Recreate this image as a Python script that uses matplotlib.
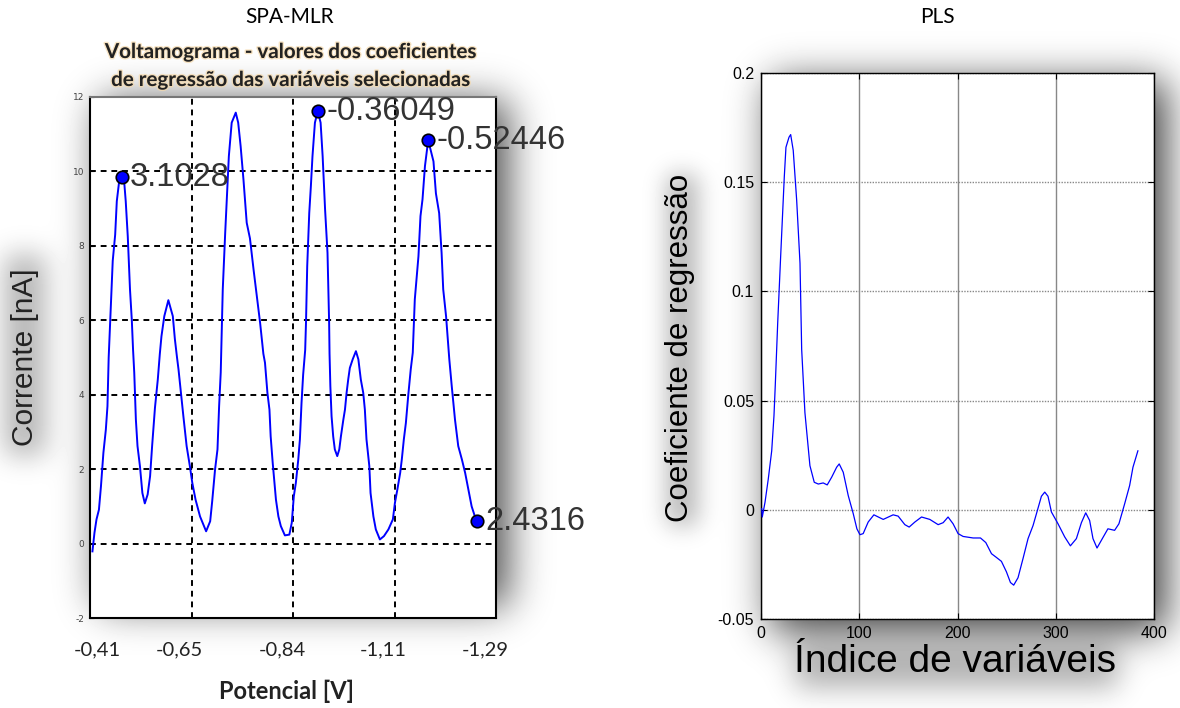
import matplotlib.pyplot as plt
import matplotlib.patheffects as pe
from matplotlib.ticker import FixedLocator
import numpy as np

plt.rcParams['axes.unicode_minus'] = False

W, H = 1180, 708

# SPA-MLR: voltamograma (índice da variável, corrente em nA)
volt_idx = [0.6, 1.1, 1.6, 2.2, 2.7, 3.3, 3.9, 4.3, 4.6, 5.1, 5.6, 6.2, 6.6, 7.2, 7.8,
            8.4, 8.8, 9.3, 9.85, 10.3, 10.6, 10.9, 11.3, 11.7, 12.3, 12.9, 13.5, 14.2,
            14.8, 15.3, 16.0, 16.7, 17.2, 17.6, 18.3, 19.3, 20.4, 20.9, 21.4, 21.8,
            22.4, 23.0, 23.8, 24.6, 25.2, 26.0, 27.1, 28.6, 29.6, 30.1, 30.8, 31.4,
            31.8, 32.2, 32.4, 32.7, 33.3, 33.8, 34.2, 34.9, 35.9, 36.5, 37.1, 37.8,
            38.6, 39.4, 40.3, 41.1, 41.9, 42.7, 43.1, 43.7, 44.2, 44.5, 45.0, 45.3,
            45.8, 46.4, 47.0, 48.0, 49.1, 49.7, 50.2, 50.7, 51.3, 51.7, 52.1, 52.5,
            53.0, 53.2, 53.5, 54.0, 54.4, 54.8, 55.4, 56.1, 56.8, 57.3, 57.9, 58.5,
            58.9, 59.0, 59.2, 59.5, 59.9, 60.3, 60.9, 61.4, 61.8, 62.4, 62.8, 63.2,
            63.6, 64.0, 64.7, 65.5, 66.1, 66.7, 67.3, 67.7, 68.1, 68.8, 69.1, 69.8,
            70.4, 71.4, 72.4, 73.5, 74.6, 75.1, 75.7, 76.4, 76.8, 77.3, 77.8, 78.4,
            79.0, 79.5, 80.0, 80.9, 81.4, 81.9, 82.5, 83.3, 84.6, 85.2, 86.0, 86.6,
            87.0, 87.7, 88.5, 89.1, 89.9, 90.7, 91.6, 92.4, 93.2, 94.0, 94.8, 95.4]
volt_cur = [-0.21, 0.29, 0.65, 0.91, 1.54, 2.44, 3.06, 3.69, 5.0, 6.3, 7.6, 8.3, 9.2,
            9.75, 9.85, 9.75, 9.2, 8.26, 6.83, 6.0, 5.22, 4.59, 3.33, 2.62, 2.08, 1.36,
            1.08, 1.32, 1.81, 2.62, 3.65, 4.41, 5.1, 5.57, 6.11, 6.54, 6.11, 5.5, 5.03,
            4.68, 4.05, 3.42, 2.62, 2.08, 1.63, 1.18, 0.73, 0.33, 0.6, 1.14, 1.99, 2.53,
            3.69, 4.6, 5.5, 6.83, 8.35, 9.52, 10.41, 11.31, 11.58, 11.31, 10.68, 9.78,
            8.62, 8.2, 7.35, 6.65, 5.93, 5.1, 4.86, 4.05, 3.6, 2.88, 2.17, 1.81, 1.18,
            0.73, 0.47, 0.22, 0.24, 0.56, 1.27, 1.63, 2.26, 2.8, 3.78, 4.54, 5.2, 5.93,
            7.45, 8.88, 9.6, 10.41, 11.31, 11.62, 11.31, 10.41, 8.98, 7.81, 5.93, 5.1,
            4.23, 3.42, 2.88, 2.53, 2.35, 2.53, 2.88, 3.33, 3.6, 4.05, 4.41, 4.72, 4.95,
            5.17, 4.95, 4.41, 4.05, 3.6, 2.8, 2.08, 1.36, 0.73, 0.38, 0.11, 0.2, 0.38,
            0.65, 1.09, 1.45, 1.9, 2.26, 2.8, 3.24, 4.0, 4.68, 5.13, 6.56, 7.72, 8.8,
            9.25, 10.14, 10.84, 10.27, 9.41, 8.88, 7.81, 6.83, 6.11, 4.95, 4.23, 3.33,
            2.62, 2.26, 1.9, 1.45, 1.0, 0.73, 0.6]

# variáveis selecionadas e seus coeficientes de regressão
sel_pos = [7.8, 56.1, 83.3, 95.4]
sel_coef = ['3.1028', '-0.36049', '-0.52446', '2.4316']

# rótulos de potencial no eixo x
pot_pos = [1.7, 21.9, 47.5, 72.2, 97.3]
pot_labels = ['-0,41', '-0,65', '-0,84', '-1,11', '-1,29']

# PLS: vetor de regressão
pls_idx = [0.7, 1.3, 4.1, 7.4, 10.9, 13.2, 14.5, 17, 20, 23.7, 25.4, 28.5, 30.2, 32.8,
           36.3, 39.7, 41.4, 44.7, 49.8, 54.2, 58.3, 63.3, 67.4, 71.9, 77, 79.6, 83.7,
           88.8, 93.9, 97.6, 100.7, 104, 109.1, 114.9, 124.4, 134.5, 139.6, 146.4,
           150.8, 156.6, 163.4, 171.8, 180.3, 185.4, 190.4, 195.5, 200.6, 205.7,
           215.9, 223.4, 228.8, 234.6, 239, 244.7, 249.8, 253.9, 257.2, 261.6, 266.7,
           271.8, 276.9, 281.3, 285.4, 288.8, 292.1, 295.6, 302.3, 309.1, 314.9, 321,
           326.1, 330.5, 334.5, 337.9, 342, 347.4, 353.1, 359.9, 364.3, 370.1, 375.2,
           378.6, 383.6]
pls_coef = [0.0005, -0.0033, 0.0035, 0.0141, 0.027, 0.043, 0.0567, 0.0856, 0.116,
            0.1524, 0.166, 0.1706, 0.1718, 0.1646, 0.1418, 0.1129, 0.0734, 0.0445,
            0.0202, 0.0126, 0.0118, 0.0123, 0.0114, 0.0149, 0.0195, 0.021, 0.0172,
            0.0065, -0.0018, -0.0087, -0.0114, -0.0109, -0.0056, -0.0023, -0.0044,
            -0.0023, -0.0029, -0.0068, -0.0079, -0.0056, -0.0033, -0.0044, -0.0068,
            -0.0059, -0.0033, -0.0064, -0.0109, -0.0122, -0.0129, -0.0129, -0.015,
            -0.0201, -0.0216, -0.0236, -0.0284, -0.0333, -0.0345, -0.0311, -0.0223,
            -0.0132, -0.0072, -0.0003, 0.0062, 0.0081, 0.0062, -0.001, -0.0064,
            -0.0124, -0.0165, -0.0132, -0.0059, -0.0014, -0.0049, -0.0132, -0.0175,
            -0.0132, -0.0087, -0.0094, -0.0064, 0.0027, 0.0111, 0.0195, 0.027]


def blur(img, sigma):
    r = int(3 * sigma)
    k = np.exp(-0.5 * (np.arange(-r, r + 1) / sigma) ** 2)
    k /= k.sum()
    img = np.apply_along_axis(lambda v: np.convolve(v, k, mode='same'), 0, img)
    img = np.apply_along_axis(lambda v: np.convolve(v, k, mode='same'), 1, img)
    return img


def soft_shadow(boxes):
    # cada caixa: (x0, x1, y0, y1, sigma, intensidade) em pixels da figura
    shade = np.zeros((H, W))
    for x0, x1, y0, y1, sigma, strength in boxes:
        m = np.zeros((H, W))
        m[int(y0):int(y1), int(x0):int(x1)] = 1.0
        shade += strength * blur(m, sigma)
    return np.clip(1.0 - shade, 0, 1)


fig = plt.figure(figsize=(W / 100, H / 100), dpi=100, facecolor='white')

# sombras suaves atrás dos dois painéis
bg = fig.add_axes([0, 0, 1, 1], zorder=-5)
shadow = soft_shadow([
    (100, 508, 101, 606, 20, 0.7),
    (5, 45, 255, 455, 14, 0.3),
    (771, 1166, 81, 631, 20, 0.75),
    (668, 697, 175, 525, 12, 0.3),
    (795, 1118, 648, 688, 14, 0.3),
])
bg.imshow(shadow, cmap='gray', vmin=0, vmax=1, extent=(0, W, H, 0),
          aspect='auto', interpolation='bilinear')
bg.set_xlim(0, W)
bg.set_ylim(H, 0)
bg.axis('off')

# ---------------- SPA-MLR ----------------
ax1 = fig.add_axes([90 / W, 1 - 618 / H, 406 / W, 521 / H])
ax1.plot(volt_idx, volt_cur, color='#0000ff', lw=1.4, zorder=3)
sel_y = np.interp(sel_pos, volt_idx, volt_cur)
ax1.plot(sel_pos, sel_y, 'o', ms=9, mfc='#0000ff', mec='black', mew=1.2, zorder=4,
         clip_on=False)
for x, y, t in zip(sel_pos, sel_y, sel_coef):
    ax1.annotate(t, (x, y), xytext=(6, 0), textcoords='offset points', ha='left',
                 va='center', fontsize=23.5, family='Liberation Sans', color='#333333',
                 annotation_clip=False, zorder=6)

ax1.set_xlim(0, 100)
ax1.set_ylim(-2, 12)
ax1.set_xticks(pot_pos)
ax1.set_xticklabels(pot_labels, fontfamily='Lato', fontsize=14.5, color='#222222')
ax1.xaxis.set_minor_locator(FixedLocator([25, 50, 75]))
ax1.set_yticks(np.arange(-2, 13, 2))
ax1.grid(True, which='minor', axis='x', color='black', ls=(0, (3, 2.5)), lw=1.4)
ax1.grid(True, which='major', axis='y', color='black', ls=(0, (3, 2.5)), lw=1.4)
ax1.tick_params(axis='x', which='both', length=0, pad=17)
ax1.tick_params(axis='y', direction='in', length=3, labelsize=6.5, pad=4,
                labelcolor='#444444')
for s in ax1.spines.values():
    s.set_linewidth(1.5)
ax1.spines['top'].set_color('#777777')

ax1.set_ylabel('Corrente [nA]', fontsize=21.5, family='Liberation Sans', color='#222222')
ax1.yaxis.set_label_coords(-0.125, 0.50)
ax1.set_xlabel('Potencial [V]', fontsize=17, family='Lato', weight='bold',
               color='#222222')
ax1.xaxis.set_label_coords(0.485, -0.118)

glow = [pe.withStroke(linewidth=2, foreground='#f5d9ab', alpha=0.7)]
fig.text(290 / W, 1 - 52 / H, 'Voltamograma - valores dos coeficientes', ha='center',
         va='center', fontsize=14.8, family='Lato', weight='bold', color='#222222',
         path_effects=glow)
fig.text(290 / W, 1 - 80 / H, 'de regressão das variáveis selecionadas', ha='center',
         va='center', fontsize=14.8, family='Lato', weight='bold', color='#222222',
         path_effects=glow)
fig.text(290 / W, 1 - 17 / H, 'SPA-MLR', ha='center', va='center', fontsize=15,
         family='Lato')

# ---------------- PLS ----------------
ax2 = fig.add_axes([761 / W, 1 - 619 / H, 393 / W, 546 / H])
ax2.plot(pls_idx, pls_coef, color='#0000ff', lw=0.9, zorder=3)
ax2.set_xlim(0, 400)
ax2.set_ylim(-0.05, 0.2)
ax2.set_xticks([0, 100, 200, 300, 400])
ax2.set_yticks([-0.05, 0, 0.05, 0.1, 0.15, 0.2])
ax2.set_yticklabels(['-0.05', '0', '0.05', '0.1', '0.15', '0.2'])
ax2.grid(True, axis='x', color='#888888', lw=1.0)
ax2.grid(True, axis='y', color='#888888', lw=1.0, ls=(0, (1, 1)))
ax2.tick_params(direction='in', length=4, top=True, right=True, labelsize=11.5,
                pad=5)
for lab in ax2.get_xticklabels() + ax2.get_yticklabels():
    lab.set_family('Liberation Sans')
for s in ax2.spines.values():
    s.set_linewidth(1.0)
ax2.spines['top'].set_linestyle((0, (1, 1)))

ax2.set_ylabel('Coeficiente de regressão', fontsize=22.5, family='Liberation Sans')
ax2.yaxis.set_label_coords(-0.168, 0.497)
ax2.set_xlabel('Índice de variáveis', fontsize=28, family='Liberation Sans')
ax2.xaxis.set_label_coords(0.494, -0.046)
fig.text(937 / W, 1 - 17 / H, 'PLS', ha='center', va='center', fontsize=15,
         family='Lato')

fig.savefig('out.png', dpi=100, facecolor='white')
